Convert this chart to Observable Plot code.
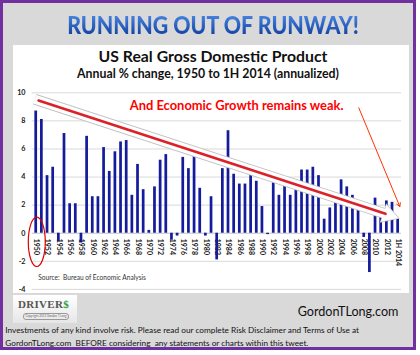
<!DOCTYPE html>
<html>
<head>
<meta charset="utf-8">
<script src="https://cdn.jsdelivr.net/npm/d3@7"></script>
<script src="https://cdn.jsdelivr.net/npm/@observablehq/plot@0.6"></script>
<style>
  html, body { margin: 0; padding: 0; background: #ffffff; }
  #wrap { position: relative; width: 420px; height: 355px; overflow: hidden; font-family: Lato, "Open Sans", sans-serif; }
  #frame { position: absolute; left: 0; top: 0; width: 416px; height: 350px; box-sizing: border-box; border: 3px solid #7030a0; background: #d9d9d9; }
  #panel { position: absolute; left: 13px; top: 45px; width: 396px; height: 248px; background: #ffffff; }
  .t { position: absolute; white-space: nowrap; line-height: 1; }
  #title { left: 0; width: 426px; top: 14.5px; text-align: center; font-size: 22px; font-weight: 900; transform: scale(0.97, 1.1); transform-origin: 213px 20px;
           background: linear-gradient(#4c8ae6, #0d3c9c); -webkit-background-clip: text; background-clip: text; color: transparent; }
  #sub1 { left: 0; width: 426px; top: 48.3px; text-align: center; font-size: 15.8px; font-weight: 700; color: #111; }
  #sub2 { left: 0; width: 416px; top: 67.5px; text-align: center; font-size: 12.3px; font-weight: 700; color: #111; }
  #chart { position: absolute; left: 13px; top: 86px; }
  #logo { position: absolute; left: 13px; top: 295px; width: 64px; height: 28px; background: linear-gradient(#ffffff, #e6e6e6); }
  #logo .big { position: absolute; left: 5px; top: 3px; font-family: "Liberation Serif", serif; font-weight: 700; font-size: 11px; color: #555; letter-spacing: 0.3px; }
  #logo .big span { color: #2e9e3a; }
  #logo .small { position: absolute; left: 10px; top: 18px; width: 44px; height: 5px; border: 1px solid #999; border-radius: 3px; font-size: 3px; color: #666; text-align: center; line-height: 5px; }
  #site { left: 297.7px; top: 305.6px; font-size: 12.6px; color: #111; }
  #disc { position: absolute; left: 5.3px; top: 324.4px; font-size: 8.25px; line-height: 12.3px; color: #111; white-space: nowrap; }
</style>
</head>
<body>
<div id="wrap">
  <div id="frame"></div>
  <div id="panel"></div>
  <div class="t" id="title">RUNNING OUT OF RUNWAY!</div>
  <div class="t" id="sub1">US Real Gross Domestic Product</div>
  <div class="t" id="sub2">Annual % change, 1950 to 1H 2014 (annualized)</div>
  <div id="chart"></div>
  <div id="logo"><div class="big">DRIVER<span>$</span></div><div class="small">Copyright 2013 Gordon T Long</div></div>
  <div class="t" id="site">GordonTLong.com</div>
  <div id="disc">Investments of any kind involve risk. Please read our complete Risk Disclaimer and Terms of Use at<br>GordonTLong.com&nbsp; BEFORE considering&nbsp; any statements or charts within this tweet.</div>
</div>
<script>
// ---- data ----
const years = [1950,1951,1952,1953,1954,1955,1956,1957,1958,1959,
               1960,1961,1962,1963,1964,1965,1966,1967,1968,1969,
               1970,1971,1972,1973,1974,1975,1976,1977,1978,1979,
               1980,1981,1982,1983,1984,1985,1986,1987,1988,1989,
               1990,1991,1992,1993,1994,1995,1996,1997,1998,1999,
               2000,2001,2002,2003,2004,2005,2006,2007,2008,2009,
               2010,2011,2012,2013,2014];
const growth = [8.7, 8.1, 4.1, 4.7, -0.6, 7.1, 2.1, 2.1, -0.7, 6.9,
                2.6, 2.6, 6.1, 4.4, 5.8, 6.5, 6.6, 2.7, 4.9, 3.1,
                0.2, 3.3, 5.2, 5.6, -0.5, -0.2, 5.4, 4.6, 5.6, 3.2,
                -0.2, 2.6, -1.9, 4.6, 7.3, 4.2, 3.5, 3.5, 4.2, 3.7,
                1.9, -0.1, 3.6, 2.7, 4.0, 2.7, 3.8, 4.5, 4.5, 4.7,
                4.1, 1.0, 1.8, 2.8, 3.8, 3.3, 2.7, 1.8, -0.3, -2.8,
                2.5, 1.6, 2.3, 2.2, 1.0];
const tickYears = [1950,1952,1954,1956,1958,1960,1962,1964,1966,1968,1970,1972,1974,1976,1978,
                   1980,1982,1984,1986,1988,1990,1992,1994,1996,1998,2000,2002,2004,2006,2008,2010,2012,2014];
const tickLabels = ["1950","1952","1954","1956","1958","1960","1962","1964","1966","1968","1970","1972","1974","1976","1978",
                    "1980","1982","1984","1986","1988","1990","1992","1994","1996","1998","2000","2002","2004","2006","2008","2010","2012","1H 2014"];
const yTicks = [-4, -2, 0, 2, 4, 6, 8, 10];
const gridLines = [-4, -2, 2, 4, 6, 8, 10];
// trend (red line) and its white band
const trendX = [1950.41, 2011.76];
const trendY = [9.45, 1.38];
const bandX = [1949.75, 2011.9];
const bandY = [9.54, 1.36];
const headX = [2012.3];
const headY = [1.31];
const noteText = ["And Economic Growth remains weak."];
const sourceText = ["Source:  Bureau of Economic Analysis"];

const gdp = years.map((year, i) => ({year, value: growth[i]}));
const trend = trendX.map((x, i) => ({x, y: trendY[i]}));
const band = bandX.map((x, i) => ({x, y: bandY[i]}));
const head = headX.map((x, i) => ({x, y: headY[i]}));
const ticks = tickYears.map((year, i) => ({year, label: tickLabels[i]}));

const ellipseSymbol = {
  draw(ctx) {
    const rx = 8.5, ry = 24.7, k = 0.5523;
    ctx.moveTo(rx, 0);
    ctx.bezierCurveTo(rx, ry * k, rx * k, ry, 0, ry);
    ctx.bezierCurveTo(-rx * k, ry, -rx, ry * k, -rx, 0);
    ctx.bezierCurveTo(-rx, -ry * k, -rx * k, -ry, 0, -ry);
    ctx.bezierCurveTo(rx * k, -ry, rx, -ry * k, rx, 0);
    ctx.closePath();
  }
};

const chart = Plot.plot({
  width: 397,
  height: 207,
  marginLeft: 18.7,
  marginRight: 9,
  marginTop: 6.3,
  marginBottom: 4.1,
  style: {fontFamily: "Lato, 'Open Sans', sans-serif", fontSize: "7px", background: "transparent", overflow: "visible"},
  x: {domain: [1949.29, 2014.59], axis: null},
  y: {domain: [-4, 10], axis: null},
  marks: [
    Plot.ruleY(gridLines, {stroke: "#d9d9d9", strokeWidth: 1}),
    Plot.ruleY([0], {stroke: "#c4c4c4", strokeWidth: 1}),
    Plot.text(ticks, {x: "year", y: () => 0, text: "label", rotate: 90, textAnchor: "start", dy: 5.5,
                      fontSize: 7, fontWeight: "bold", fill: "#1a1a1a"}),
    Plot.rect(gdp, {x1: d => d.year - 0.24, x2: d => d.year + 0.24, y1: () => 0, y2: "value", fill: "#141c9c"}),
    Plot.text(sourceText, {x: () => 1950.35, y: () => -3.2, text: d => d, textAnchor: "start", fontSize: 6.6, fill: "#333"}),
    Plot.line(band, {x: "x", y: "y", stroke: "#c2c2c2", strokeWidth: 11, strokeLinecap: "butt"}),
    Plot.dot(head, {x: "x", y: "y", symbol: "triangle", r: 7.6, rotate: 108, fill: "#c2c2c2", stroke: "none"}),
    Plot.line(band, {x: "x", y: "y", stroke: "#ffffff", strokeWidth: 9, strokeLinecap: "butt"}),
    Plot.dot(head, {x: "x", y: "y", symbol: "triangle", r: 6.6, rotate: 108, fill: "#ffffff", stroke: "none"}),
    Plot.line(trend, {x: "x", y: "y", stroke: "#dc2128", strokeWidth: 2.6}),
    Plot.text(noteText, {x: () => 1966.55, y: () => 9.1, text: d => d, textAnchor: "start", fontSize: 12.9, fontWeight: "bold", fill: "#ff0000"}),
    Plot.arrow([{x1: 2007.04, y1: 8.93, x2: 2014.29, y2: 1.9}], {x1: "x1", y1: "y1", x2: "x2", y2: "y2", stroke: "#ff3300", strokeWidth: 1, headLength: 6}),
    Plot.dot([{x: 1950.1, y: -0.61}], {x: "x", y: "y", symbol: ellipseSymbol, stroke: "#e00000", strokeWidth: 1.2, fill: "none"}),
    Plot.text(yTicks, {frameAnchor: "left", y: d => d, text: d => String(d), dx: -6.7, textAnchor: "end",
                       fontSize: 7.2, fontWeight: "bold", fill: "#1a1a1a"})
  ]
});
document.getElementById("chart").appendChild(chart);
</script>
</body>
</html>
